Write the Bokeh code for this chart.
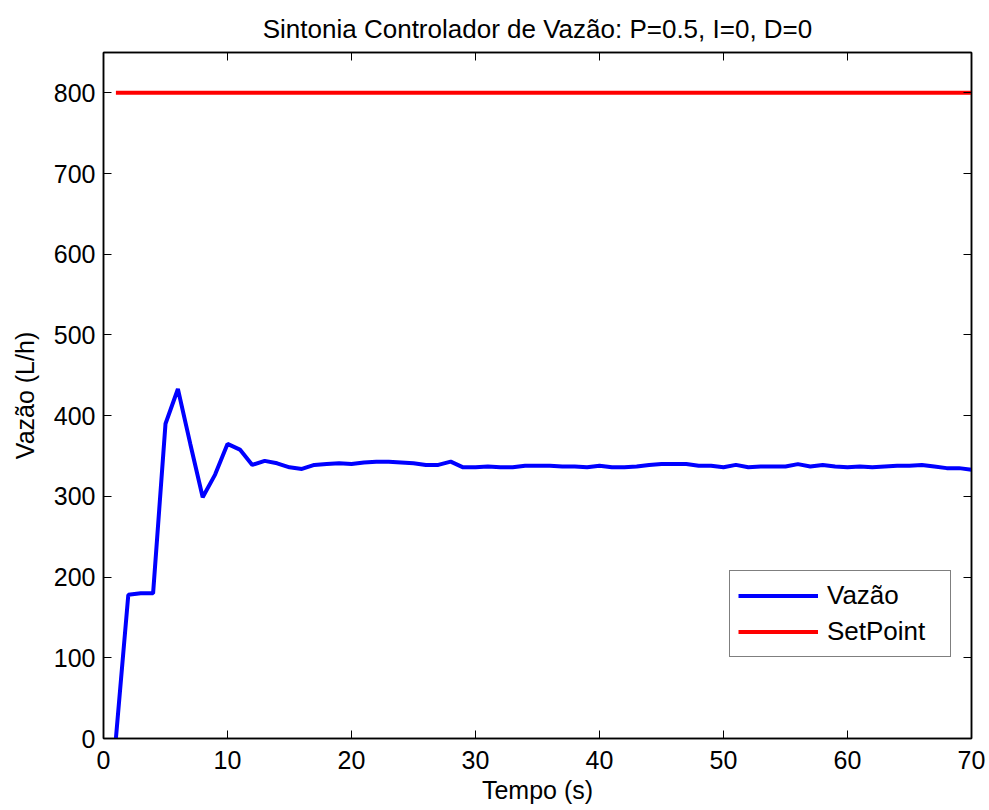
from bokeh.plotting import figure
from bokeh.models import LinearAxis, Range1d, Legend, LegendItem, FixedTicker, CustomJSTickFormatter
from bokeh.embed import file_html
from bokeh.resources import INLINE

tempo = list(range(1, 71))
vazao = [0, 178, 180, 180, 390, 433, 365, 299, 327, 365,
         358, 339, 344, 341, 336, 334, 339, 340, 341, 340,
         342, 343, 343, 342, 341, 339, 339, 343, 336, 336,
         337, 336, 336, 338, 338, 338, 337, 337, 336, 338,
         336, 336, 337, 339, 340, 340, 340, 338, 338, 336,
         339, 336, 337, 337, 337, 340, 337, 339, 337, 336,
         337, 336, 337, 338, 338, 339, 337, 335, 335, 333]
setpoint = [800] * 70
x_ticks = [0, 10, 20, 30, 40, 50, 60, 70]
y_ticks = [0, 100, 200, 300, 400, 500, 600, 700, 800]

FONT = "Liberation Sans"
FS = "25px"

p = figure(width=989, height=810, output_backend="svg", toolbar_location=None,
           x_range=Range1d(0, 70), y_range=Range1d(0, 850),
           min_border_left=103, min_border_right=18, min_border_top=52, min_border_bottom=72)

p.title.text = "Sintonia Controlador de Vazão: P=0.5, I=0, D=0"
p.title.align = "center"
p.title.text_font = FONT
p.title.text_font_size = "26px"
p.title.text_font_style = "normal"
p.title.text_color = "black"
p.title.standoff = 18

p.grid.visible = False
p.outline_line_color = "black"
p.outline_line_width = 1.5
p.background_fill_color = "white"
p.border_fill_color = "white"

for ax in (p.xaxis[0], p.yaxis[0]):
    ax.major_tick_in = 8
    ax.major_tick_out = 0
    ax.minor_tick_in = 0
    ax.minor_tick_out = 0
    ax.axis_line_color = "black"
    ax.axis_line_width = 1.5
    ax.major_tick_line_color = "black"
    ax.major_label_text_font = FONT
    ax.major_label_text_font_size = FS
    ax.major_label_text_color = "black"
    ax.axis_label_text_font = FONT
    ax.axis_label_text_font_size = FS
    ax.axis_label_text_font_style = "normal"
    ax.axis_label_text_color = "black"

p.xaxis[0].ticker = FixedTicker(ticks=x_ticks)
p.yaxis[0].ticker = FixedTicker(ticks=y_ticks)
p.xaxis[0].axis_label = "Tempo (s)"
p.yaxis[0].axis_label = "Vazão (L/h)"
p.xaxis[0].major_label_standoff = 12
p.yaxis[0].major_label_standoff = 8
p.xaxis[0].axis_label_standoff = 4
p.yaxis[0].axis_label_standoff = 12

blank = CustomJSTickFormatter(code="return '';")
top = LinearAxis(ticker=FixedTicker(ticks=x_ticks), formatter=blank,
                 major_tick_in=8, major_tick_out=0, minor_tick_in=0, minor_tick_out=0,
                 major_label_text_font_size="0px", major_label_standoff=0,
                 axis_line_color="black", axis_line_width=1.5)
right = LinearAxis(ticker=FixedTicker(ticks=y_ticks), formatter=blank,
                   major_tick_in=8, major_tick_out=0, minor_tick_in=0, minor_tick_out=0,
                   major_label_text_font_size="0px", major_label_standoff=0,
                   axis_line_color="black", axis_line_width=1.5)
p.add_layout(top, "above")
p.add_layout(right, "right")

r1 = p.line(tempo, vazao, line_color="#0000ff", line_width=4)
r2 = p.line(tempo, setpoint, line_color="#ff0000", line_width=4)

legend = Legend(items=[LegendItem(label="Vazão", renderers=[r1]),
                       LegendItem(label="SetPoint", renderers=[r2])],
                location=(626, 81))
legend.label_text_font = FONT
legend.label_text_font_size = "26px"
legend.label_text_color = "black"
legend.glyph_width = 80
legend.glyph_height = 33
legend.label_height = 33
legend.label_width = 115
legend.spacing = 3
legend.padding = 8
legend.margin = 0
legend.label_standoff = 9
legend.border_line_color = "black"
legend.border_line_width = 1.5
legend.background_fill_alpha = 1.0
p.add_layout(legend, "center")

open("out.html", "w").write(file_html(p, INLINE))
